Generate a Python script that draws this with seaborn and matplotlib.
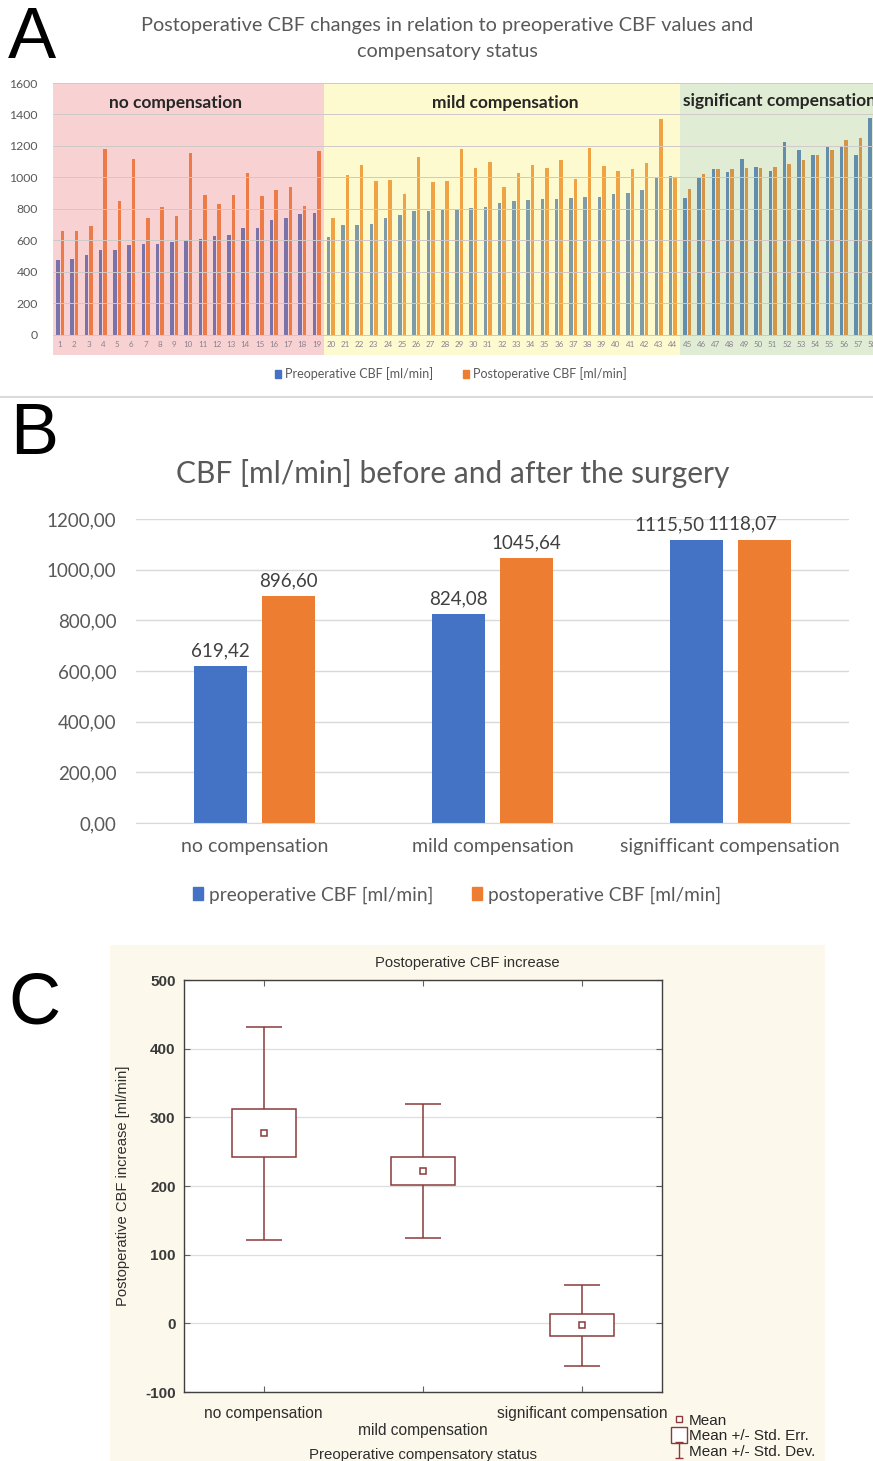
import matplotlib
matplotlib.use("Agg")
import matplotlib.pyplot as plt
from matplotlib.patches import Patch
from matplotlib.lines import Line2D
from matplotlib.path import Path
from matplotlib.ticker import FuncFormatter
import seaborn as sns
import pandas as pd
import numpy as np

# ---------------- data ----------------
patients = list(range(1, 59))
group_sizes = [19, 25, 14]
group_names_A = ["no compensation", "mild compensation", "significant compensation"]
pre_A = [477, 480, 505, 540, 540, 570, 575, 580, 590, 605, 612, 628, 638, 680, 680, 730, 740, 768, 772,
         621, 700, 700, 704, 744, 761, 787, 787, 795, 797, 804, 810, 840, 848, 857, 863, 863, 867, 874, 878,
         893, 903, 920, 997, 1012,
         870, 997, 1054, 1035, 1120, 1065, 1043, 1228, 1173, 1141, 1192, 1203, 1145, 1379]
post_A = [660, 660, 690, 1183, 848, 1120, 740, 810, 758, 1158, 890, 833, 890, 1030, 880, 918, 938, 822, 1170,
          744, 1016, 1082, 980, 986, 897, 1130, 971, 980, 1183, 1060, 1099, 942, 1029, 1077, 1063, 1109, 990,
          1186, 1073, 1039, 1052, 1090, 1372, 1005,
          925, 1020, 1052, 1054, 1058, 1060, 1065, 1088, 1113, 1145, 1177, 1241, 1253, 1368]
series_A = ["Preoperative CBF [ml/min]", "Postoperative CBF [ml/min]"]

groups_B = ["no compensation", "mild compensation", "signifficant compensation"]
pre_B = [619.42, 824.08, 1115.50]
post_B = [896.60, 1045.64, 1118.07]
series_B = ["preoperative CBF [ml/min]", "postoperative CBF [ml/min]"]

groups_C = ["no compensation", "mild compensation", "significant compensation"]
mean_C = [277, 222, -3]
se_C = [35, 20, 16]
sd_C = [155, 98, 59]

# ---------------- style ----------------
sns.set_style("white")
plt.rcParams["font.family"] = ["Lato", "DejaVu Sans"]
plt.rcParams["axes.unicode_minus"] = False
BLUE = "#4472C4"
ORANGE = "#ED7D31"
GREY_TXT = "#595959"

W, H = 873, 1461
fig = plt.figure(figsize=(W / 100, H / 100), dpi=100)
fig.patch.set_facecolor("white")


def rect(l, t, r, b):
    return [l / W, 1 - b / H, (r - l) / W, (b - t) / H]


def fx(x):
    return x / W


def fy(y):
    return 1 - y / H


# ================= Panel A =================
axA = fig.add_axes(rect(53, 83, 873, 355))
dfA = pd.DataFrame({
    "patient": patients * 2,
    "series": [series_A[0]] * 58 + [series_A[1]] * 58,
    "value": pre_A + post_A,
})
sns.barplot(data=dfA, x="patient", y="value", hue="series", hue_order=series_A,
            palette=[BLUE, ORANGE], saturation=1, width=0.64, gap=0.25, linewidth=0,
            legend=False, ax=axA)
axA.set_xlim(-0.5, 57.04)
axA.set_ylim(-127, 1600)
axA.set_yticks(range(0, 1601, 200))
axA.set_xlabel("")
axA.set_ylabel("")
for s in axA.spines.values():
    s.set_visible(False)

band_cols = [(235 / 255, 120 / 255, 120 / 255), (249 / 255, 241 / 255, 112 / 255), (161 / 255, 198 / 255, 126 / 255)]
start = -0.5
for n, c in zip(group_sizes, band_cols):
    axA.axvspan(start, start + n, color=c, alpha=0.33, lw=0, zorder=2)
    start += n

axA.set_axisbelow(False)
axA.yaxis.grid(True, color="#d0c8c8", lw=0.7)
axA.xaxis.grid(False)
axA.tick_params(axis="y", labelsize=8.8, labelcolor=GREY_TXT, length=0, pad=11)
axA.set_xticks(range(58))
axA.set_xticklabels([str(p) for p in patients])
axA.tick_params(axis="x", labelsize=5.8, labelcolor="#8a8090", length=0, pad=-10)

axA.text(8.1, 1473, group_names_A[0], ha="center", va="center", fontsize=12.5, fontweight="bold",
         color="#262626", zorder=5)
axA.text(31.2, 1473, group_names_A[1], ha="center", va="center", fontsize=12.5, fontweight="bold",
         color="#262626", zorder=5)
axA.text(43.7, 1486, group_names_A[2], ha="left", va="center", fontsize=12.5, fontweight="bold",
         color="#262626", zorder=5, clip_on=False)

fig.text(fx(447), fy(26), "Postoperative CBF changes in relation to preoperative CBF values and",
         ha="center", va="center", fontsize=14.3, color=GREY_TXT)
fig.text(fx(447), fy(52), "compensatory status", ha="center", va="center", fontsize=14.3, color=GREY_TXT)

legA = fig.legend(handles=[Patch(color=BLUE), Patch(color=ORANGE)], labels=series_A,
                  loc="center", bbox_to_anchor=(fx(451), fy(374)), ncol=2, frameon=False,
                  fontsize=9, handlelength=0.5, handleheight=0.7, handletextpad=0.3,
                  columnspacing=2.4)
for t in legA.get_texts():
    t.set_color(GREY_TXT)

fig.add_artist(Line2D([0, 1], [fy(397), fy(397)], color="#dcdcdc", lw=1.5, transform=fig.transFigure))

# ================= Panel B =================
axB = fig.add_axes(rect(136, 519, 849, 823))
dfB = pd.DataFrame({
    "group": groups_B * 2,
    "series": [series_B[0]] * 3 + [series_B[1]] * 3,
    "value": pre_B + post_B,
})
sns.barplot(data=dfB, x="group", y="value", hue="series", hue_order=series_B, order=groups_B,
            palette=[BLUE, ORANGE], saturation=1, width=0.572, gap=0.22, linewidth=0,
            legend=False, ax=axB)
axB.set_xlim(-0.5, 2.5)
axB.set_ylim(0, 1200)
axB.set_yticks(range(0, 1201, 200))
axB.yaxis.set_major_formatter(FuncFormatter(lambda v, p: f"{v:.2f}".replace(".", ",")))
axB.set_xlabel("")
axB.set_ylabel("")
for k, s in axB.spines.items():
    s.set_visible(k == "bottom")
axB.spines["bottom"].set_color("#d9d9d9")
axB.set_axisbelow(True)
axB.yaxis.grid(True, color="#d9d9d9", lw=1)
axB.tick_params(axis="y", labelsize=13.5, labelcolor=GREY_TXT, length=0, pad=14)
axB.tick_params(axis="x", labelsize=14, labelcolor=GREY_TXT, length=0, pad=11)
for ci, cont in enumerate(axB.containers):
    anns = axB.bar_label(cont, labels=[f"{v:.2f}".replace(".", ",") for v in cont.datavalues],
                         padding=5, fontsize=13.5, color="#404040", clip_on=False)
    # the two labels of the last group sit shifted left in the original chart
    anns[2].xyann = (-19 if ci == 0 else -15.5, 5)

fig.text(fx(453), fy(473), "CBF [ml/min] before and after the surgery", ha="center", va="center",
         fontsize=21.5, color=GREY_TXT)
legB = fig.legend(handles=[Patch(color=BLUE), Patch(color=ORANGE)], labels=series_B,
                  loc="center", bbox_to_anchor=(fx(457), fy(895)), ncol=2, frameon=False,
                  fontsize=13.8, handlelength=0.55, handleheight=0.7, handletextpad=0.3,
                  columnspacing=2.0)
for t in legB.get_texts():
    t.set_color(GREY_TXT)

# ================= Panel C =================
bg = fig.add_axes(rect(110, 945, 825, 1461))
bg.set_facecolor("#fcf8ec")
bg.set_xticks([])
bg.set_yticks([])
for s in bg.spines.values():
    s.set_visible(False)
bg.set_zorder(0)

narrow = ["Liberation Sans Narrow", "Liberation Sans", "DejaVu Sans"]
RED = "#8a3a3a"
TXT_C = "#2e2e2e"
axC = fig.add_axes(rect(184, 980, 662, 1392))
axC.set_zorder(2)
axC.set_facecolor("white")
xC = np.arange(len(groups_C))
axC.errorbar(xC, mean_C, yerr=sd_C, fmt="none", ecolor=RED, elinewidth=1.1, capsize=13,
             capthick=1.1, zorder=2)
axC.bar(xC, [2 * s for s in se_C], bottom=[m - s for m, s in zip(mean_C, se_C)], width=0.4,
        facecolor="white", edgecolor=RED, linewidth=1.1, zorder=3)
axC.plot(xC, mean_C, ls="none", marker="s", ms=4, mfc="white", mec=RED, mew=1.1, zorder=4)
axC.set_xlim(-0.5, 2.5)
axC.set_ylim(-100, 500)
axC.set_yticks(range(-100, 501, 100))
axC.set_xticks(xC)
axC.set_xticklabels([groups_C[0], "\n" + groups_C[1], groups_C[2]], family=narrow, fontsize=11.2,
                    color=TXT_C, linespacing=1.2)
for lab in axC.get_yticklabels():
    lab.set_family(narrow)
    lab.set_fontweight("bold")
axC.tick_params(axis="y", labelsize=11, labelcolor="#3a3a3a", pad=6)
axC.tick_params(direction="in", length=4, color="#606060", top=True, right=True, bottom=True, left=True,
                width=0.8)
axC.tick_params(axis="x", pad=10)
axC.yaxis.grid(True, color="#dedede", lw=0.9)
axC.set_axisbelow(True)
for s in axC.spines.values():
    s.set_color("#404040")
    s.set_linewidth(1)
fig.text(fx(467), fy(963), "Postoperative CBF increase", family=narrow, fontsize=10.6, color=TXT_C,
         ha="center", va="center", zorder=3)
axC.set_ylabel("Postoperative CBF increase [ml/min]", family=narrow, fontsize=10.6, color=TXT_C,
               labelpad=11)
t_xl = fig.text(fx(423), fy(1455), "Preoperative compensatory status", family=narrow, fontsize=10.8,
                color=TXT_C, ha="center", va="center")
t_xl.set_zorder(3)

sd_marker = Path([(-0.45, 1), (0.45, 1), (0, 1), (0, -1), (-0.45, -1), (0.45, -1)],
                 [Path.MOVETO, Path.LINETO, Path.MOVETO, Path.LINETO, Path.MOVETO, Path.LINETO])
handles_C = [
    Line2D([], [], ls="none", marker="s", ms=4.5, mfc="white", mec=RED, mew=1),
    Line2D([], [], ls="none", marker="s", ms=12, mfc="white", mec=RED, mew=1),
    Line2D([], [], ls="none", marker=sd_marker, ms=12, mfc="none", mec=RED, mew=1),
]
legC = fig.legend(handles=handles_C, labels=["Mean", "Mean +/- Std. Err.", "Mean +/- Std. Dev."],
                  loc="upper left", bbox_to_anchor=(fx(664), fy(1406)), frameon=False,
                  prop={"family": narrow, "size": 11}, handlelength=1.0, handletextpad=0.15,
                  labelspacing=0.1, borderpad=0)
legC.set_zorder(3)

# ---------------- panel letters ----------------
for letter, x, y in [("A", 8, 6), ("B", 10, 402), ("C", 8, 972)]:
    fig.text(fx(x), fy(y), letter, ha="left", va="top", fontsize=52, color="black",
             family=["Liberation Sans", "DejaVu Sans"])

fig.savefig("out.png", dpi=100)
